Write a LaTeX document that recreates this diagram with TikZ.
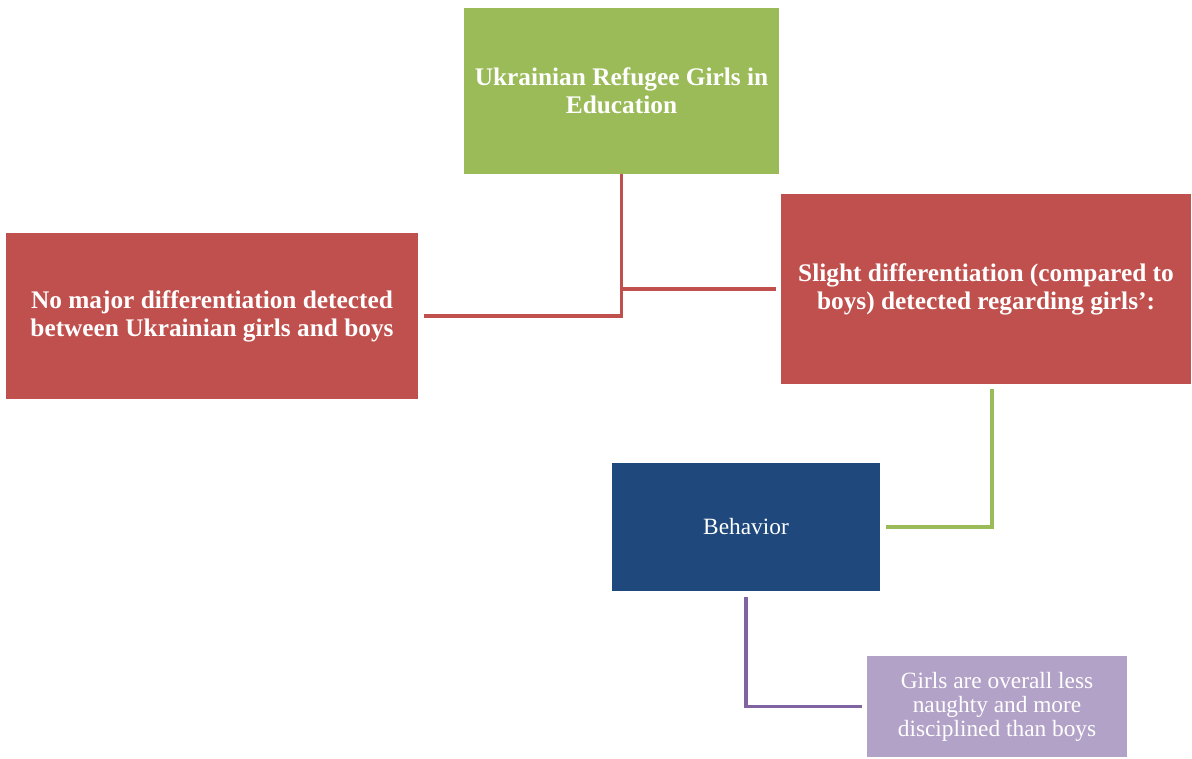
\documentclass[tikz,border=0pt]{standalone}
\usepackage{fontspec}
\setmainfont{Liberation Serif}
\usetikzlibrary{calc}
\definecolor{leafGreen}{HTML}{9BBB59}
\definecolor{brick}{HTML}{C0504D}
\definecolor{navy}{HTML}{1F497D}
\definecolor{lilac}{HTML}{B2A2C7}
\definecolor{plum}{HTML}{8064A2}
\tikzset{
  base/.style={text=white, align=center, inner sep=4pt},
  box/.style={base, font=\bfseries\fontsize{19}{21}\selectfont},
  plainbox/.style={base, font=\fontsize{17.5}{18}\selectfont},
  topic/.style={box, fill=leafGreen, minimum width=236.25pt, minimum height=124.5pt},
  finding/.style={box, fill=brick, minimum width=309pt, minimum height=124.5pt},
  aspect/.style={plainbox, fill=navy, minimum width=201pt, minimum height=96pt},
  detail/.style={plainbox, fill=lilac, minimum width=195pt, minimum height=75.75pt},
  link/.style={line width=2.8pt},
  redlink/.style={link, draw=brick, line width=2.4pt},
  greenlink/.style={link, draw=leafGreen},
  purplelink/.style={link, draw=plum},
}
\begin{document}
\begin{tikzpicture}[x=0.75pt,y=-0.75pt]
  \useasboundingbox (0,0) rectangle (1192,758);

  \node[topic] (refugees) at (621.5,91) {Ukrainian Refugee Girls in\\Education};
  \node[finding] (nomajor) at (212,316) {No major differentiation detected\\between Ukrainian girls and boys};
  \node[finding,minimum width=307.5pt,minimum height=142.5pt] (slight) at (986,289) {Slight differentiation (compared to\\boys) detected regarding girls’:};
  \node[aspect] (behavior) at (746,527) {Behavior};
  \node[detail] (discipline) at (997,706.5) {Girls are overall less\\naughty and more\\disciplined than boys};

  \draw[redlink,shorten >=4.5pt] (refugees.south) |- (nomajor.east);
  \draw[redlink,shorten >=3.75pt] (refugees.south |- slight.west) -- (slight.west);
  \draw[greenlink,shorten <=3.75pt,shorten >=4.5pt] ($(slight.south)+(6,0)$) |- (behavior.east);
  \draw[purplelink,shorten <=4.5pt,shorten >=3.75pt] (behavior.south) |- (discipline.west);
\end{tikzpicture}
\end{document}
